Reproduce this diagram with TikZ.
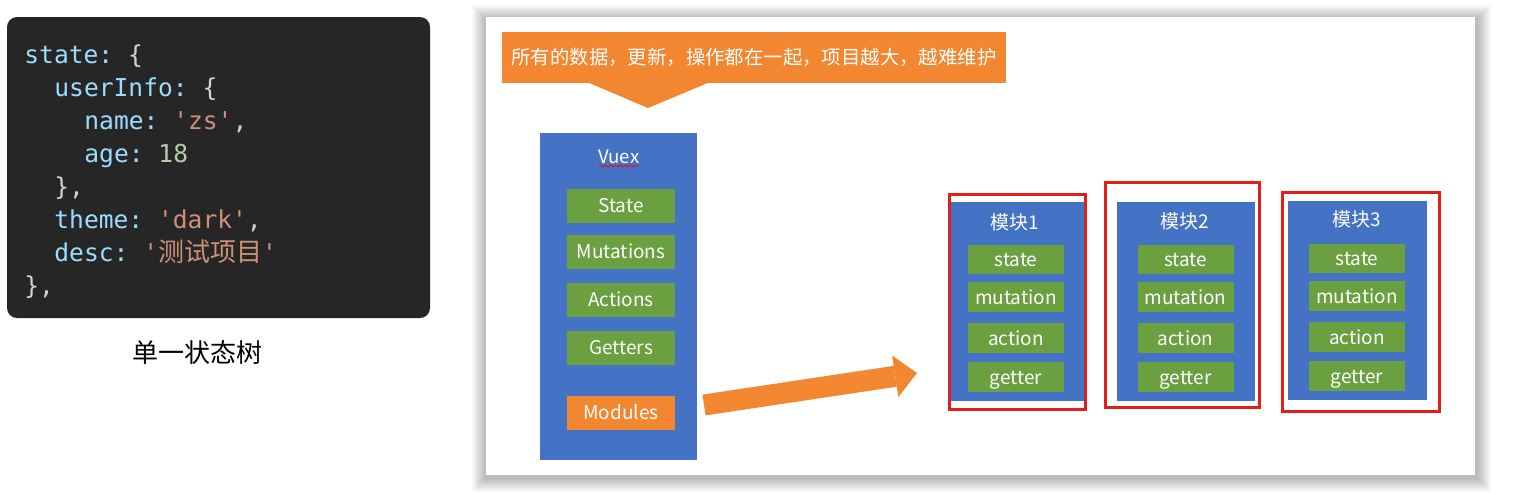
\documentclass[tikz,border=0pt]{standalone}
\usepackage{fontspec}
\setmainfont{Noto Sans CJK SC}
\setmonofont{DejaVu Sans Mono}
\newfontfamily\cjkcode{Noto Sans CJK SC}
\usetikzlibrary{arrows.meta,decorations.pathmorphing}

\definecolor{codebg}{RGB}{38,38,38}
\definecolor{codekey}{RGB}{156,220,254}
\definecolor{codestr}{RGB}{206,145,120}
\definecolor{codenum}{RGB}{181,206,168}
\definecolor{codepun}{RGB}{212,212,212}
\definecolor{slideblue}{RGB}{68,114,196}
\definecolor{slidegreen}{RGB}{106,160,64}
\definecolor{slideorange}{RGB}{243,134,48}
\definecolor{framered}{RGB}{226,30,24}

\newcommand{\ckey}[1]{\textcolor{codekey}{#1}}
\newcommand{\cstr}[1]{\textcolor{codestr}{#1}}
\newcommand{\cnum}[1]{\textcolor{codenum}{#1}}
\newcommand{\cpun}[1]{\textcolor{codepun}{#1}}

\tikzset{
  codeline/.style={anchor=base west, inner sep=0pt, font=\fontsize{12.3pt}{14pt}\ttfamily},
  bigbox/.style={fill=slideblue, inner sep=0pt},
  boxtitle/.style={text=white, inner sep=0pt, font=\fontsize{9.5pt}{11pt}\selectfont},
  itembox/.style={fill=slidegreen, text=white, inner sep=0pt, text height=8.2pt, text depth=1pt,
                  font=\fontsize{9.5pt}{11pt}\selectfont},
  modulebox/.style={itembox, fill=slideorange},
  redframe/.style={draw=framered, line width=1.5pt, inner sep=0pt}
}

\begin{document}
\begin{tikzpicture}[x=0.5pt, y=-0.5pt]
    \useasboundingbox (0,0) rectangle (1521,494);
    \fill[white] (0,0) rectangle (1521,494);

    % Code block
    \node[fill=codebg, rounded corners=5pt, minimum width=211.5pt, minimum height=150.5pt] (codebox) at (218.5,167.5) {};
    \node[codeline] (code1) at (24,63)  {\ckey{state:} \cpun{\{}};
    \node[codeline] (code2) at (54,96)  {\ckey{userInfo:} \cpun{\{}};
    \node[codeline] (code3) at (84,129) {\ckey{name:} \cstr{'zs'}\cpun{,}};
    \node[codeline] (code4) at (84,162) {\ckey{age:} \cnum{18}};
    \node[codeline] (code5) at (54,195) {\cpun{\},}};
    \node[codeline] (code6) at (54,228) {\ckey{theme:} \cstr{'dark'}\cpun{,}};
    \node[codeline] (code7) at (54,261) {\ckey{desc:} \cstr{'{\cjkcode\fontsize{13pt}{14pt}\selectfont 测试项目}'}};
    \node[codeline] (code8) at (24,294) {\cpun{\},}};
    \node[font=\fontsize{13pt}{15pt}\selectfont] (treecaption) at (197,353) {单一状态树};

    % Slide with shadow
    \foreach \k in {1,...,14}
      \fill[black, opacity=0.018] (486-\k,19-\k) rectangle (1477+\k,478+\k);
    \fill[white] (486,17) rectangle (1475,475);

    % Callout
    \node[fill=slideorange, text=white, minimum width=252pt, minimum height=25.5pt, inner sep=0pt,
          font=\fontsize{9.7pt}{11pt}\selectfont] (callout) at (754,57.5) {所有的数据，更新，操作都在一起，项目越大，越难维护};
    \fill[slideorange] (587,82) -- (648,108) -- (710,82) -- cycle;

    % Vuex store
    \node[bigbox, minimum width=78.5pt, minimum height=163.5pt] (vuex) at (618.5,296.5) {};
    \node[boxtitle, font=\fontsize{9.3pt}{11pt}\selectfont] (vuextitle) at (619,157) {Vuex};
    \draw[red, line width=0.4pt, decorate, decoration={snake, amplitude=0.5pt, segment length=2.5pt}] (599,166) -- (638,166);
    \foreach \name/\y/\txt in {state/205.5/State, mutations/251.5/Mutations, actions/299.5/Actions, getters/347.5/Getters}
      \node[itembox, minimum width=54pt, minimum height=17pt] (vx\name) at (621,\y) {\txt};
    \node[modulebox, minimum width=54pt, minimum height=17pt] (vxmodules) at (621,412.5) {Modules};

    % Arrow to the modules
    \coordinate (arrowtail) at (704,405);
    \coordinate (arrowtip) at (917,373);
    \draw[slideorange, line width=10.5pt, -{Triangle[length=11pt, width=21pt, line width=0pt]}] (arrowtail) -- (arrowtip);

    % Modules
    \foreach \m/\bx/\by/\bw/\fx/\fy/\fw/\fh/\tx/\ty/\gx/\gy in {
        1/1017.5/301.5/66.5/1017.5/302/68/107.5/1015/222/1016/0,
        2/1186/301.5/69/1182.5/295/77/112.5/1185/221/1185.5/0,
        3/1357.5/300.5/69.5/1361/302/78.5/109.5/1357/219/1357/-1}
    {
      \node[bigbox, minimum width=\bw pt, minimum height=99.5pt] (mod\m) at (\bx,\by) {};
      \node[redframe, minimum width=\fw pt, minimum height=\fh pt] (frame\m) at (\fx,\fy) {};
      \node[boxtitle] (title\m) at (\tx,\ty) {模块\m};
      \foreach \item/\y in {state/259.5, mutation/297, action/338, getter/377}
        \node[itembox, minimum width=48pt, minimum height=14.75pt] (m\m\item) at (\gx,{\y+(\gy)}) {\item};
    }
\end{tikzpicture}
\end{document}
